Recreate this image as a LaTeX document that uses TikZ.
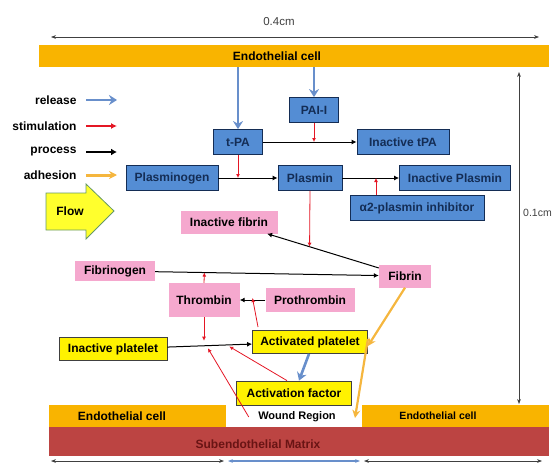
\documentclass[tikz,border=0pt]{standalone}
\usepackage{fontspec}
\setmainfont{Liberation Sans}
\usetikzlibrary{arrows.meta}

\definecolor{cellorange}{RGB}{249,180,0}
\definecolor{matrixred}{RGB}{188,68,66}
\definecolor{matrixtext}{RGB}{105,20,20}
\definecolor{boxblue}{RGB}{84,141,212}
\definecolor{navy}{RGB}{20,45,85}
\definecolor{boxpink}{RGB}{245,168,206}
\definecolor{releaseblue}{RGB}{104,143,203}
\definecolor{stimred}{RGB}{228,22,36}
\definecolor{adhorange}{RGB}{245,182,62}
\definecolor{flowyellow}{RGB}{255,255,45}

\begin{document}
\begin{tikzpicture}[x=1pt,y=-1pt,
    font=\bfseries\fontsize{12}{14}\selectfont,
    bluebox/.style={draw=navy,fill=boxblue,text=navy,minimum height=25,inner sep=2pt,line width=0.8pt},
    pinkbox/.style={fill=boxpink,minimum height=23,inner sep=2pt},
    yellowbox/.style={draw=darkgray,fill=yellow,minimum height=23,inner sep=2pt,line width=0.8pt},
    release/.style={-{Stealth[length=8pt,width=10pt]},draw=releaseblue,line width=2.6pt},
    stimulate/.style={-{Latex[length=4pt,width=4pt]},draw=stimred,line width=0.8pt},
    process/.style={-{Latex[length=5pt,width=5pt]},line width=1pt},
    adhere/.style={-{Stealth[length=8pt,width=8pt]},draw=adhorange,line width=2.2pt},
    dimline/.style={{Stealth[length=5pt]}-{Stealth[length=5pt]},line width=0.6pt,draw=darkgray},
    dimlabel/.style={font=\mdseries\fontsize{11.5}{13}\selectfont,text=black!75}]
    \useasboundingbox (0,0) rectangle (554,463);

    % Top cell layer and dimensions
    \draw[dimline] (51,37) -- (539,37);
    \node[dimlabel] (widthlabel) at (279,22) {0.4cm};
    \node[fill=cellorange,minimum width=510,minimum height=22,inner sep=0pt] (topbar) at (294,56) {};
    \node (toptext) at (277,56) {Endothelial cell};
    \draw[dimline] (519,72) -- (519,404);
    \node[dimlabel,font=\mdseries\fontsize{10.5}{12}\selectfont,anchor=west,inner sep=1pt] (heightlabel) at (522,213) {0.1cm};

    % Legend
    \node[anchor=east] (lrel) at (80,100) {release};
    \node[anchor=east] (lstim) at (80,126) {stimulation};
    \node[anchor=east] (lproc) at (80,152) {process};
    \node[anchor=east] (ladh) at (80,175) {adhesion};
    \draw[release] ([xshift=6]lrel.east) -- ++(31,0);
    \draw[stimulate,line width=1.6pt,-{Latex[length=6pt,width=6pt]}] ([xshift=6]lstim.east) -- ++(31,0);
    \draw[process,line width=1.8pt,-{Latex[length=6pt,width=7pt]}] ([xshift=6]lproc.east) -- ++(31,0);
    \draw[adhere,line width=3pt] ([xshift=6]ladh.east) -- ++(31,0);

    % Flow arrow
    \draw[fill=flowyellow,draw=gray!80!green,line width=0.8pt]
        (46,193) -- (86,193) -- (86,184) -- (114,211) -- (86,239) -- (86,230) -- (46,230) -- cycle;
    \node (flow) at (70,211) {Flow};

    % Fibrinolysis (blue boxes)
    \node[bluebox,minimum width=49] (pai) at (314,110) {PAI-I};
    \node[bluebox,minimum width=49] (tpa) at (238,142) {t-PA};
    \node[bluebox,minimum width=92] (itpa) at (403,142) {Inactive tPA};
    \node[bluebox,minimum width=92] (plg) at (172,178) {Plasminogen};
    \node[bluebox,minimum width=64] (pls) at (310,178) {Plasmin};
    \node[bluebox,minimum width=111] (ipls) at (455,178) {Inactive Plasmin};
    \node[bluebox,minimum width=134] (a2) at (417,208) {α2-plasmin inhibitor};

    % Coagulation (pink boxes)
    \node[pinkbox,minimum width=97] (ifib) at (229,222) {Inactive fibrin};
    \node[pinkbox,minimum width=80,minimum height=20] (fbg) at (115,271) {Fibrinogen};
    \node[pinkbox,minimum width=52] (fib) at (405,276) {Fibrin};
    \node[pinkbox,minimum width=71,minimum height=34] (thr) at (204,300) {Thrombin};
    \node[pinkbox,minimum width=89,minimum height=24] (pthr) at (310,300) {Prothrombin};

    % Platelets (yellow boxes)
    \node[yellowbox,minimum width=108] (iplt) at (113,349) {Inactive platelet};
    \node[yellowbox,minimum width=115] (actp) at (310,342) {Activated platelet};
    \node[yellowbox,minimum width=115,minimum height=24] (actf) at (294,393) {Activation factor};

    % Bottom layers
    \fill[cellorange] (49,405) rectangle (226,427);
    \fill[cellorange] (362,405) rectangle (549,427);
    \fill[matrixred] (49,427) rectangle (549,456);
    \node (leftcell) at (122,416) {Endothelial cell};
    \node[font=\bfseries\fontsize{10.5}{12}\selectfont] (rightcell) at (438,416) {Endothelial cell};
    \node[font=\bfseries\fontsize{11}{13}\selectfont] (wound) at (297,417) {Wound Region};
    \node[text=matrixtext] (matrix) at (258,444) {Subendothelial Matrix};
    \draw[dimline] (51,461) -- (224,461);
    \draw[dimline,draw=releaseblue,line width=1.4pt] (228,461) -- (360,461);
    \draw[dimline] (364,461) -- (542,461);

    % Release
    \draw[release] (topbar.south -| tpa.north) -- (tpa.north);
    \draw[release] (topbar.south -| pai.north) -- (pai.north);
    \draw[release] ([xshift=-1]actp.south) -- ([xshift=5]actf.north);

    % Processes
    \draw[process] (tpa) -- (itpa);
    \draw[process] (plg) -- (pls);
    \draw[process] (pls) -- (ipls);
    \draw[process] (fib) -- (ifib) coordinate[pos=0.62] (lysis);
    \draw[process] (fbg) -- (fib) coordinate[pos=0.22] (clot);
    \draw[process] (pthr) -- (thr) coordinate[pos=0.5] (conv);
    \draw[process] (iplt) -- (actp) coordinate[pos=0.44] (actA) coordinate[pos=0.46] (actB) coordinate[pos=0.7] (actC);

    % Stimulation
    \draw[stimulate] (pai.south) -- (pai.south |- tpa.east);
    \draw[stimulate] (tpa.south) -- (tpa.south |- plg.east);
    \draw[stimulate] ([xshift=-41]a2.north) -- ([xshift=-41]a2.north |- pls.east);
    \draw[stimulate] (pls.south) -- (lysis);
    \draw[stimulate] (thr.north) -- (clot);
    \coordinate (factorstart) at (258,327);
    \draw[stimulate] (factorstart) -- ([yshift=2]conv);
    \draw[stimulate,shorten >=5pt] (thr.south) -- (thr.south |- actA);
    \draw[stimulate,shorten >=3pt] ([xshift=-6]wound.west) -- (actB);
    \draw[stimulate,shorten >=3pt] ([xshift=-7]actf.north) -- (actC);

    % Adhesion
    \coordinate (woundend) at (355,418);
    \draw[adhere] (fib.south) -- ([yshift=-4]actp.east);
    \draw[adhere] ([yshift=3]actp.east) -- (woundend);

\end{tikzpicture}
\end{document}
